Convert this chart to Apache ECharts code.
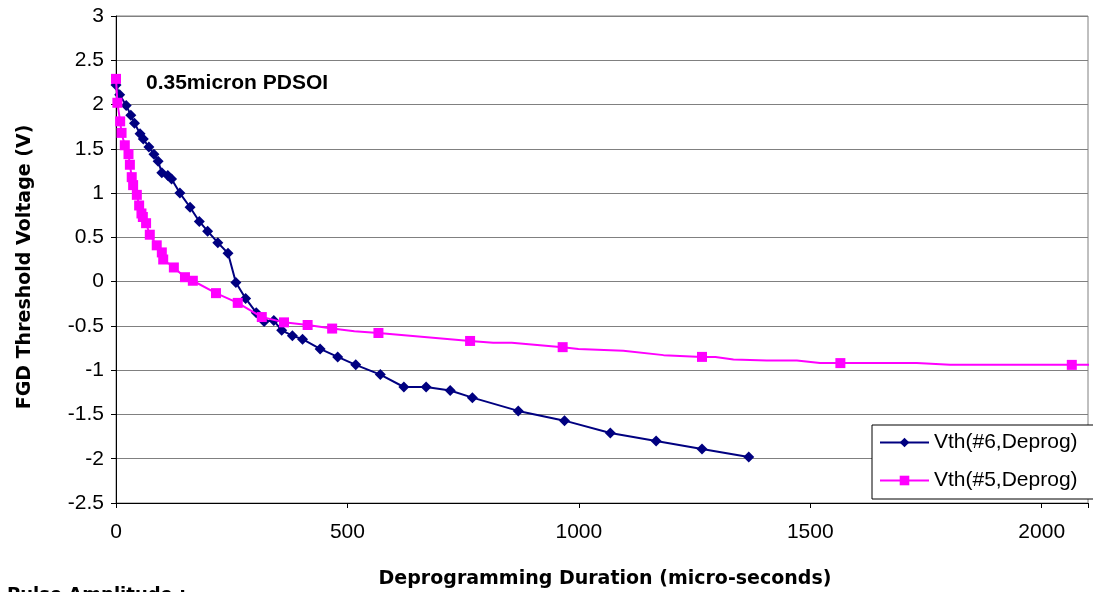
<!DOCTYPE html>
<html>
<head>
<meta charset="utf-8">
<script src="https://cdn.jsdelivr.net/npm/echarts@6/dist/echarts.min.js"></script>
<style>
  html, body { margin: 0; padding: 0; background: #fff; }
  #chart { width: 1093px; height: 592px; }
</style>
</head>
<body>
<div id="chart"></div>
<script>
// Vth(#6,Deprog) - navy diamonds
const blueX = [0, 8, 22, 32, 40, 52, 59, 71, 82, 91, 99, 112, 120, 138, 160, 180, 198, 220, 242, 259,
  280, 303, 320, 341, 358, 381, 403, 441, 479, 518, 571, 622, 670, 722, 770, 869, 969, 1068, 1167, 1266, 1367];
const blueY = [2.22, 2.11, 1.99, 1.88, 1.79, 1.67, 1.61, 1.52, 1.44, 1.36, 1.23, 1.2, 1.16, 1.0, 0.84, 0.68, 0.57, 0.44, 0.32, -0.01,
  -0.19, -0.35, -0.45, -0.44, -0.55, -0.61, -0.65, -0.76, -0.85, -0.94, -1.05, -1.19, -1.19, -1.23, -1.31, -1.46, -1.57, -1.71, -1.8, -1.89, -1.98];

// Vth(#5,Deprog) - magenta squares (marked points)
const pinkX = [0, 3, 9, 12, 19, 27, 30, 34, 37, 45, 50, 55, 58, 65, 73, 88, 99, 102, 125, 149, 166,
  216, 263, 315, 363, 414, 467, 567, 765, 965, 1266, 1565, 2065];
const pinkY = [2.29, 2.02, 1.81, 1.68, 1.54, 1.44, 1.32, 1.18, 1.09, 0.98, 0.86, 0.77, 0.73, 0.66, 0.53, 0.41, 0.33, 0.25, 0.16, 0.05, 0.01,
  -0.13, -0.24, -0.4, -0.46, -0.49, -0.53, -0.58, -0.67, -0.74, -0.85, -0.92, -0.94];
// unmarked points of the same curve (bends in the line)
const pinkBendX = [515, 815, 855, 999, 1096, 1183, 1295, 1334, 1406, 1471, 1521, 1730, 1802, 2165];
const pinkBendY = [-0.56, -0.69, -0.69, -0.76, -0.78, -0.83, -0.85, -0.88, -0.89, -0.89, -0.92, -0.92, -0.94, -0.94];

const xTicks = [0, 500, 1000, 1500, 2000];
const seriesNames = ['Vth(#6,Deprog)', 'Vth(#5,Deprog)'];

const blueData = blueX.map((x, i) => [x, blueY[i]]);
const pinkData = pinkX.map((x, i) => [x, pinkY[i]]);
const pinkPath = pinkData.concat(pinkBendX.map((x, i) => [x, pinkBendY[i]]))
  .sort((a, b) => a[0] - b[0]);

const chart = echarts.init(document.getElementById('chart'));

const option = {
  animation: false,
  backgroundColor: '#fff',
  grid: {
    left: 116,
    right: 5,
    top: 16,
    bottom: 89,
    containLabel: false,
    outerBoundsMode: 'none',
    show: true,
    borderColor: '#808080',
    borderWidth: 1
  },
  legend: {
    orient: 'vertical',
    left: 872,
    top: 425,
    data: seriesNames,
    itemWidth: 49,
    itemHeight: 12,
    itemGap: 17,
    padding: [7, 28, 8, 7],
    borderColor: '#000',
    borderWidth: 1,
    backgroundColor: '#fff',
    textStyle: {
      fontFamily: 'Liberation Sans',
      fontSize: 21,
      color: '#000'
    }
  },
  xAxis: {
    type: 'value',
    min: 0,
    max: 2100,
    interval: 500,
    axisLine: { show: true, onZero: false, lineStyle: { color: '#000', width: 1 } },
    axisTick: { show: true, length: 5, lineStyle: { color: '#000' } },
    splitLine: { show: false },
    axisLabel: {
      margin: 19,
      fontFamily: 'Liberation Sans',
      fontSize: 21,
      color: '#000',
      formatter: v => (xTicks.includes(v) ? String(v) : '')
    }
  },
  yAxis: {
    type: 'value',
    min: -2.5,
    max: 3,
    interval: 0.5,
    axisLine: { show: true, onZero: false, lineStyle: { color: '#000', width: 1 } },
    axisTick: { show: true, length: 5, lineStyle: { color: '#000' } },
    splitLine: { show: true, lineStyle: { color: '#808080', width: 1 } },
    axisLabel: {
      margin: 12,
      fontFamily: 'Liberation Sans',
      fontSize: 21,
      color: '#000'
    }
  },
  graphic: [
    {
      type: 'text',
      left: 146,
      top: 73,
      style: {
        text: '0.35micron PDSOI',
        font: 'bold 21px "Liberation Sans"',
        fill: '#000'
      }
    },
    {
      type: 'text',
      x: 605,
      y: 579,
      style: {
        text: 'Deprogramming Duration (micro-seconds)',
        font: 'bold 19px "DejaVu Sans"',
        fill: '#000',
        align: 'center',
        verticalAlign: 'middle'
      }
    },
    {
      type: 'text',
      x: 25,
      y: 267,
      rotation: Math.PI / 2,
      style: {
        text: 'FGD Threshold Voltage (V)',
        font: 'bold 19px "DejaVu Sans"',
        fill: '#000',
        align: 'center',
        verticalAlign: 'middle'
      }
    },
    {
      type: 'text',
      x: 7,
      y: 586,
      style: {
        text: 'Pulse Amplitude :',
        font: 'bold 18px "DejaVu Sans"',
        fill: '#000',
        align: 'left',
        verticalAlign: 'top'
      }
    }
  ],
  series: [
    {
      name: seriesNames[0],
      type: 'line',
      data: blueData,
      symbol: 'diamond',
      symbolSize: 11,
      color: '#000080',
      itemStyle: { color: '#000080' },
      lineStyle: { color: '#000080', width: 2 },
      z: 2
    },
    {
      name: seriesNames[1],
      type: 'line',
      data: pinkPath,
      symbol: 'rect',
      symbolSize: 9,
      showSymbol: false,
      clip: false,
      color: '#FF00FF',
      itemStyle: { color: '#FF00FF' },
      lineStyle: { color: '#FF00FF', width: 2 },
      z: 3
    },
    {
      name: seriesNames[1],
      type: 'scatter',
      data: pinkData,
      symbol: 'rect',
      symbolSize: 10,
      color: '#FF00FF',
      itemStyle: { color: '#FF00FF', opacity: 1 },
      z: 4
    }
  ]
};

chart.setOption(option);
</script>
</body>
</html>
